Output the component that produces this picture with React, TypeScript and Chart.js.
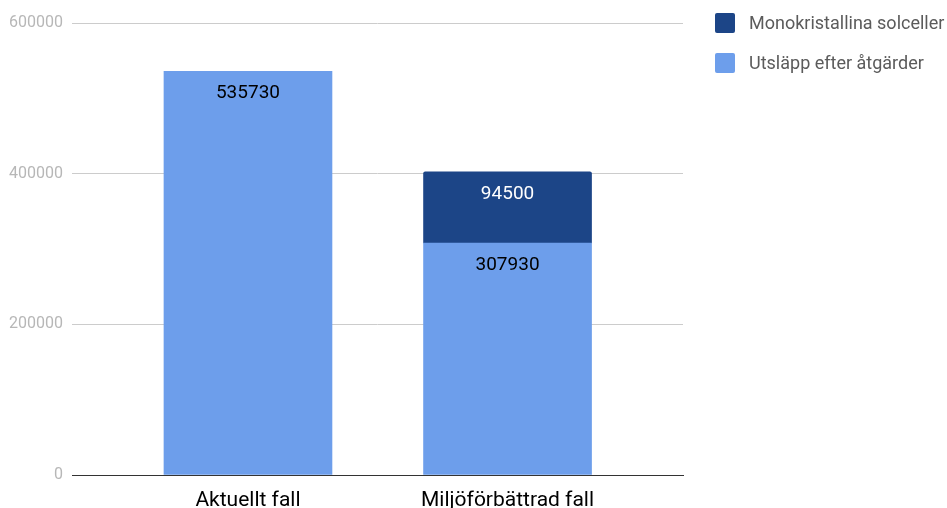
import React, { useEffect, useRef } from "react";
import { Chart, registerables } from "chart.js";

Chart.register(...registerables);

const categories = ["Aktuellt fall", "Miljöförbättrad fall"];
const utslappValues = [535730, 307930];
const monoValues = [0, 94500];
const seriesNames = ["Monokristallina solceller", "Utsläpp efter åtgärder"];
const yTicks = [0, 200000, 400000, 600000];

const LIGHT = "#6d9eeb";
const DARK = "#1c4587";
const FONT = "Roboto";

const valueLabels = {
  id: "valueLabels",
  afterDatasetsDraw(chart: any) {
    const ctx = chart.ctx;
    ctx.save();
    ctx.font = `19px ${FONT}`;
    ctx.textAlign = "center";
    ctx.textBaseline = "middle";
    chart.data.datasets.forEach((ds: any, di: number) => {
      const meta = chart.getDatasetMeta(di);
      meta.data.forEach((el: any, i: number) => {
        const v = ds.data[i] && ds.data[i].y;
        if (!v) return;
        ctx.fillStyle = ds.labelColor;
        ctx.fillText(String(v), el.x, el.y + 22);
      });
    });
    ctx.restore();
  },
};

export default function App() {
  const ref = useRef<HTMLCanvasElement>(null);
  useEffect(() => {
    if (!ref.current) return;
    const chart = new Chart(ref.current, {
      type: "bar",
      data: {
        datasets: [
          {
            label: seriesNames[1],
            data: utslappValues.map((v, i) => ({ x: i, y: v })),
            backgroundColor: LIGHT,
            barThickness: 168,
            labelColor: "#000000",
          } as any,
          {
            label: seriesNames[0],
            data: monoValues.map((v, i) => ({ x: i, y: v > 0 ? v : null })),
            backgroundColor: DARK,
            barThickness: 168,
            borderRadius: { topLeft: 2, topRight: 2, bottomLeft: 0, bottomRight: 0 },
            borderSkipped: false,
            labelColor: "#ffffff",
          } as any,
        ],
      },
      options: {
        animation: false,
        responsive: false,
        layout: { padding: { top: 23, right: 264, left: 0, bottom: 0 } },
        plugins: { legend: { display: false }, tooltip: { enabled: false } },
        scales: {
          x: {
            type: "linear",
            stacked: true,
            offset: false,
            bounds: "data",
            min: -0.678,
            max: 1.676,
            afterBuildTicks: (scale: any) => {
              scale.ticks = categories.map((_, i) => ({ value: i }));
            },
            afterFit: (scale: any) => {
              scale.height = 33;
            },
            grid: { display: false, drawTicks: false },
            border: { display: true, color: "#333333", width: 1 },
            ticks: {
              padding: 13,
              color: "#000000",
              font: { family: FONT, size: 21 },
              callback: (v: any) => categories[v] ?? "",
            },
          },
          y: {
            stacked: true,
            min: 0,
            max: 600000,
            afterBuildTicks: (scale: any) => {
              scale.ticks = yTicks.map((v) => ({ value: v }));
            },
            afterFit: (scale: any) => {
              scale.width = 72;
            },
            grid: { color: "#cccccc", drawTicks: false },
            border: { display: false },
            ticks: {
              padding: 9,
              color: "#b7b7b7",
              font: { family: FONT, size: 16 },
              callback: (v: any) => String(v),
            },
          },
        },
      },
      plugins: [valueLabels],
    });
    return () => chart.destroy();
  }, []);

  const legendItems = [
    { name: seriesNames[0], color: DARK, top: 13 },
    { name: seriesNames[1], color: LIGHT, top: 53 },
  ];

  return (
    <div style={{ position: "absolute", left: 0, top: 0, width: 947, height: 508, overflow: "hidden", background: "#fff" }}>
      <canvas ref={ref} width={947} height={508} style={{ display: "block" }} />
      {legendItems.map((it) => (
        <div key={it.name} style={{ position: "absolute", left: 715, top: it.top, height: 20, display: "flex", alignItems: "center" }}>
          <div style={{ width: 20, height: 20, borderRadius: 2, background: it.color }} />
          <span style={{ marginLeft: 14, fontFamily: FONT, fontSize: 18, color: "#5b5b5b", whiteSpace: "nowrap", lineHeight: "20px" }}>
            {it.name}
          </span>
        </div>
      ))}
    </div>
  );
}
